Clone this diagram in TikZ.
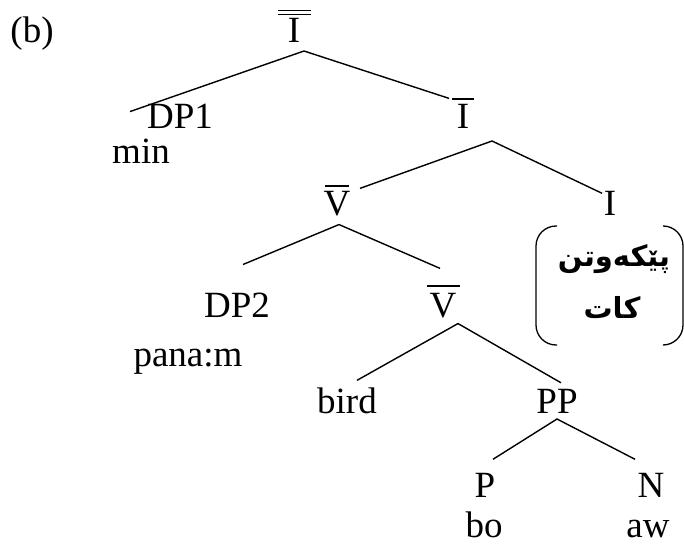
\documentclass[tikz,border=0pt]{standalone}
\usepackage{fontspec}
\setmainfont{Liberation Serif}
\newfontfamily\kurdfont[Script=Arabic]{DejaVu Sans}
\TeXXeTstate=1
\newcommand\barlbl[3]{\vbox{\offinterlineskip\hbox to #1{\hss\vrule height 1.4pt width #1\hss}\kern #3\hbox to #1{\hss #2\hss}}}
\newcommand\dbarlbl[3]{\vbox{\offinterlineskip\hbox to #1{\hss\vrule height 1.4pt width #1\hss}\kern 2.6pt\hbox to #1{\hss\vrule height 1.4pt width #1\hss}\kern #3\hbox to #1{\hss #2\hss}}}
\begin{document}
\begin{tikzpicture}[x=1pt,y=-1pt,
  lbl/.style={anchor=base,inner sep=0pt,outer sep=0pt,font=\fontsize{37}{44}\selectfont},
  kurd/.style={anchor=base,inner sep=0pt,outer sep=0pt,font=\kurdfont\bfseries\fontsize{29}{35}\selectfont},
  branch/.style={line width=1.4pt},
  brack/.style={line width=1.3pt,rounded corners=20pt}]
\useasboundingbox (0,0) rectangle (684,545);
\node[lbl] (b) at (32,43) {(b)};
\node[lbl] (top) at (294,43) {\dbarlbl{33pt}{I}{3.5pt}};
\node[lbl] (DP1) at (180,129) {DP1};
\node[lbl] (min) at (141,164) {min};
\node[lbl] (Ibar) at (463,129) {\barlbl{22pt}{I}{5pt}};
\node[lbl] (VbarA) at (337,215) {\barlbl{24pt}{V}{4pt}};
\node[lbl] (I3) at (610,215) {I};
\node[kurd] (agr) at (614,266) {\beginR پێکەوتن\endR};
\node[kurd] (tense) at (612,318) {\beginR کات\endR};
\node[lbl] (DP2) at (237,317) {DP2};
\node[lbl] (pana) at (188,366) {pana:m};
\node[lbl] (VbarB) at (443,317) {\barlbl{33pt}{V}{6pt}};
\node[lbl] (bird) at (347,413) {bird};
\node[lbl] (PP) at (557,413) {PP};
\node[lbl] (P) at (485,497) {P};
\node[lbl] (N) at (651,497) {N};
\node[lbl] (bo) at (484,537) {bo};
\node[lbl] (aw) at (648,537) {aw};
% brackets around the Kurdish feature bundle
\draw[brack] (557,226) -- (536,226) -- (536,345) -- (557,345);
\draw[brack] (663,226) -- (683,226) -- (683,345) -- (663,345);
% branches
\draw[branch] ([xshift=-50pt,yshift=-7pt]DP1.north) -- ([xshift=10pt,yshift=-8pt]top.south) -- ([xshift=-14pt]Ibar.north);
\draw[branch] ([xshift=23pt,yshift=-3pt]VbarA.north) -- ([xshift=29pt,yshift=-12pt]Ibar.south) -- ([xshift=-8pt,yshift=-2.5pt]I3.north);
\draw[branch] ([xshift=6pt,yshift=28pt]DP2.north) -- ([xshift=2pt,yshift=-9pt]VbarA.south) -- ([xshift=-3pt,yshift=17pt]VbarB.north);
\draw[branch] ([xshift=10pt,yshift=7pt]bird.north) -- ([xshift=15pt,yshift=-6pt]VbarB.south) -- ([xshift=4pt,yshift=6pt]PP.north);
\draw[branch] ([xshift=8pt,yshift=13.5pt]P.north) -- ([yshift=-6pt]PP.south) -- ([xshift=-16pt,yshift=13.5pt]N.north);
\end{tikzpicture}
\end{document}
